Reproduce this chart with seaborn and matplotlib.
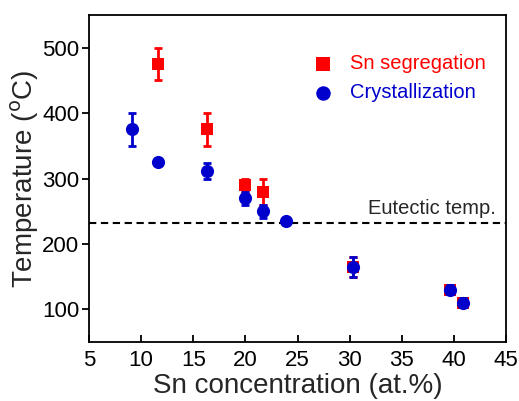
import matplotlib
matplotlib.use("Agg")
import matplotlib.pyplot as plt
import seaborn as sns
import pandas as pd
import numpy as np

# Data
seg_x = [11.6, 16.35, 20.0, 21.7, 30.3, 39.6, 40.9]
seg_y = [475, 375, 290, 280, 165, 130, 110]
seg_err = [25, 25, 10, 20, 15, 7, 7]

cry_x = [9.1, 11.6, 16.35, 20.0, 21.7, 23.9, 30.3, 39.6, 40.9]
cry_y = [375, 325, 312, 270, 250, 235, 165, 130, 110]
cry_err = [25, 0, 12, 10, 10, 0, 15, 7, 7]

eutectic_T = 232
x_ticks = [5, 10, 15, 20, 25, 30, 35, 40, 45]
y_ticks = [100, 200, 300, 400, 500]

sns.set_style("white")
plt.rcParams['font.family'] = ['Liberation Sans', 'DejaVu Sans']

fig = plt.figure(figsize=(5.19, 4.01), dpi=100)
ax = fig.add_axes([0.1715, 0.147, 0.8035, 0.8156])

red = "#ff0000"
blue = "#0000cc"

df_seg = pd.DataFrame({"x": seg_x, "y": seg_y, "err": seg_err})
df_cry = pd.DataFrame({"x": cry_x, "y": cry_y, "err": cry_err})

ax.axhline(eutectic_T, color="black", linestyle=(0, (3.5, 2.2)), linewidth=1.5, zorder=1)

ax.errorbar(df_seg["x"], df_seg["y"], yerr=df_seg["err"], fmt="none",
            ecolor=red, elinewidth=2, capsize=3, capthick=2, zorder=2)
sns.scatterplot(data=df_seg, x="x", y="y", ax=ax, marker="s", s=75,
                color=red, edgecolor=red, linewidth=0, zorder=3,
                label="Sn segregation")
ax.errorbar(df_cry["x"], df_cry["y"], yerr=df_cry["err"], fmt="none",
            ecolor=blue, elinewidth=2, capsize=3, capthick=2, zorder=4)
sns.scatterplot(data=df_cry, x="x", y="y", ax=ax, marker="o", s=90,
                color=blue, edgecolor=blue, linewidth=0, zorder=5,
                label="Crystallization")

ax.text(44.0, 240, "Eutectic temp.", ha="right", va="bottom", fontsize=14.5)

ax.set_xlim(5, 45)
ax.set_ylim(50, 550)
ax.set_xticks(x_ticks)
ax.set_yticks(y_ticks)
ax.tick_params(axis="x", direction="in", length=5, width=1.3, pad=5.5,
               labelsize=16, bottom=True, colors="black")
ax.tick_params(axis="y", direction="out", length=5, width=1.3, pad=2,
               labelsize=16, left=True, colors="black")
ax.set_xlabel("Sn concentration (at.%)", fontsize=20, labelpad=2)
ax.set_ylabel("Temperature ($^{\\mathrm{o}}$C)", fontsize=20, labelpad=1)
for s in ax.spines.values():
    s.set_color("black")
    s.set_linewidth(1.3)

leg = ax.legend(loc="upper left", bbox_to_anchor=(0.486, 0.935), frameon=False,
                fontsize=14.5, handletextpad=0.7, labelspacing=0.5,
                handlelength=1.3, markerscale=1.1)
for t, c in zip(leg.get_texts(), [red, blue]):
    t.set_color(c)

fig.savefig("out.png", dpi=100)
